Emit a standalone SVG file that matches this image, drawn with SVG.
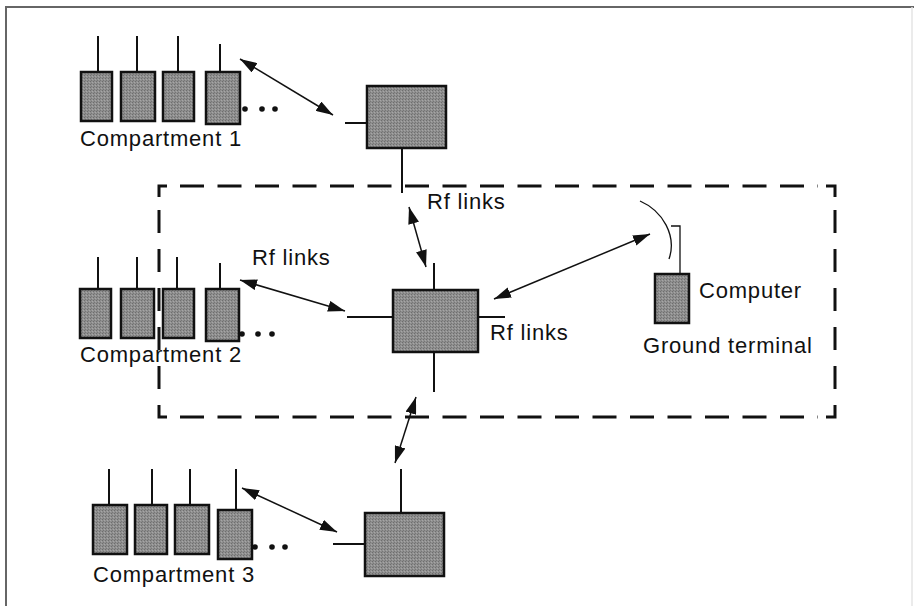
<svg xmlns="http://www.w3.org/2000/svg" width="914" height="606" viewBox="0 0 914 606">
  <defs>
    <pattern id="stipple" width="3" height="3" patternUnits="userSpaceOnUse">
      <rect width="3" height="3" fill="#8f8f8f"/>
      <rect x="0" y="0" width="1" height="1" fill="#6e6e6e"/>
      <rect x="2" y="1" width="1" height="1" fill="#a6a6a6"/>
      <rect x="1" y="2" width="1" height="1" fill="#777"/>
    </pattern>
    <marker id="head" viewBox="0 0 17 11" refX="17" refY="5.5" markerWidth="17" markerHeight="11" markerUnits="userSpaceOnUse" orient="auto-start-reverse">
      <path d="M0,0 L17,5.5 L0,11 z" fill="#111"/>
    </marker>
  </defs>
  <style>
    .box { fill: url(#stipple); stroke: #111; stroke-width: 2.5; }
    .ant { stroke: #111; stroke-width: 2; fill: none; }
    .thin { stroke: #111; stroke-width: 1.3; fill: none; }
    .link { stroke: #111; stroke-width: 1.5; fill: none; marker-start: url(#head); marker-end: url(#head); }
    .dash { stroke: #111; stroke-width: 3; fill: none; }
    .dot { fill: #111; }
    .lbl { font-family: "Liberation Sans", Arial, sans-serif; font-size: 22px; letter-spacing: 0.8px; fill: #111; }
  </style>

  <rect width="914" height="606" fill="#fff"/>

  <!-- outer frame -->
  <path d="M6,606 V7 H914" fill="none" stroke="#666" stroke-width="2"/>
  <path d="M912,7 V606" fill="none" stroke="#e4e4e4" stroke-width="1.5"/>

  <!-- dashed boundary of the local network -->
  <g id="boundary">
    <path class="dash" d="M159,197 V186 H167 M826,186 H835 V197 M159,405 V417 H167 M826,417 H835 V405"/>
    <path class="dash" d="M180,186 H818" stroke-dasharray="24 13.5"/>
    <path class="dash" d="M180,417 H818" stroke-dasharray="24 13.5"/>
    <path class="dash" d="M159,210 V395" stroke-dasharray="23 16"/>
    <path class="dash" d="M835,210 V395" stroke-dasharray="23 16"/>
  </g>

  <!-- compartment 1 -->
  <g id="compartment1">
    <path class="ant" d="M98,36 V72 M137,36 V72 M178,36 V72 M220,44 V72"/>
    <rect class="box" x="81" y="72" width="31" height="49"/>
    <rect class="box" x="121" y="72" width="34" height="49"/>
    <rect class="box" x="163" y="72" width="31" height="49"/>
    <rect class="box" x="206" y="72" width="34" height="52"/>
    <circle class="dot" cx="245" cy="109" r="2.8"/>
    <circle class="dot" cx="262" cy="109" r="2.8"/>
    <circle class="dot" cx="275" cy="109" r="2.8"/>
    <text class="lbl" x="80" y="146">Compartment 1</text>
  </g>

  <!-- compartment 2 -->
  <g id="compartment2">
    <path class="ant" d="M98,257 V289 M137,257 V289 M177,257 V289 M220,263 V289"/>
    <rect class="box" x="80" y="289" width="31" height="49"/>
    <rect class="box" x="121" y="289" width="33" height="49"/>
    <rect class="box" x="163" y="289" width="31" height="49"/>
    <rect class="box" x="206" y="289" width="33" height="52"/>
    <circle class="dot" cx="242" cy="334" r="2.8"/>
    <circle class="dot" cx="258" cy="334" r="2.8"/>
    <circle class="dot" cx="272" cy="334" r="2.8"/>
    <text class="lbl" x="80" y="362">Compartment 2</text>
  </g>

  <!-- compartment 3 -->
  <g id="compartment3">
    <path class="ant" d="M109,469 V505 M152,469 V505 M190,469 V505 M236,469 V510"/>
    <rect class="box" x="93" y="505" width="34" height="49"/>
    <rect class="box" x="135" y="505" width="32" height="49"/>
    <rect class="box" x="175" y="505" width="34" height="49"/>
    <rect class="box" x="218" y="510" width="34" height="49"/>
    <circle class="dot" cx="255" cy="547" r="2.8"/>
    <circle class="dot" cx="272" cy="547" r="2.8"/>
    <circle class="dot" cx="285" cy="547" r="2.8"/>
    <text class="lbl" x="93" y="582">Compartment 3</text>
  </g>

  <!-- relay unit of compartment 1 -->
  <g id="relay1">
    <path class="ant" d="M345,123 H367 M402,148 V193"/>
    <rect class="box" x="367" y="86" width="79" height="62"/>
  </g>

  <!-- central relay unit -->
  <g id="relay-central">
    <path class="ant" d="M347,317 H393 M478,317 H505 M434,263 V290 M434,352 V392"/>
    <rect class="box" x="393" y="290" width="85" height="62"/>
  </g>

  <!-- relay unit of compartment 3 -->
  <g id="relay3">
    <path class="ant" d="M333,544 H365 M401,469 V513"/>
    <rect class="box" x="365" y="513" width="79" height="63"/>
  </g>

  <!-- ground terminal with dish antenna -->
  <g id="ground-terminal">
    <path class="thin" d="M640,201 C663,211 677,236 669,259"/>
    <path class="thin" d="M671,226 H680 V274"/>
    <rect class="box" x="655" y="274" width="34" height="49"/>
    <text class="lbl" x="699" y="298">Computer</text>
    <text class="lbl" x="643" y="353">Ground terminal</text>
  </g>

  <!-- radio links -->
  <g id="connectors">
    <line class="link" x1="240" y1="59" x2="333" y2="115"/>
    <line class="link" x1="409" y1="207" x2="426" y2="267"/>
    <line class="link" x1="240" y1="280" x2="345" y2="311"/>
    <line class="link" x1="494" y1="299" x2="650" y2="234"/>
    <line class="link" x1="416" y1="397" x2="395" y2="463"/>
    <line class="link" x1="242" y1="488" x2="337" y2="532"/>
  </g>

  <g id="link-labels">
    <text class="lbl" x="427" y="209">Rf links</text>
    <text class="lbl" x="252" y="265">Rf links</text>
    <text class="lbl" x="490" y="340">Rf links</text>
  </g>
</svg>
